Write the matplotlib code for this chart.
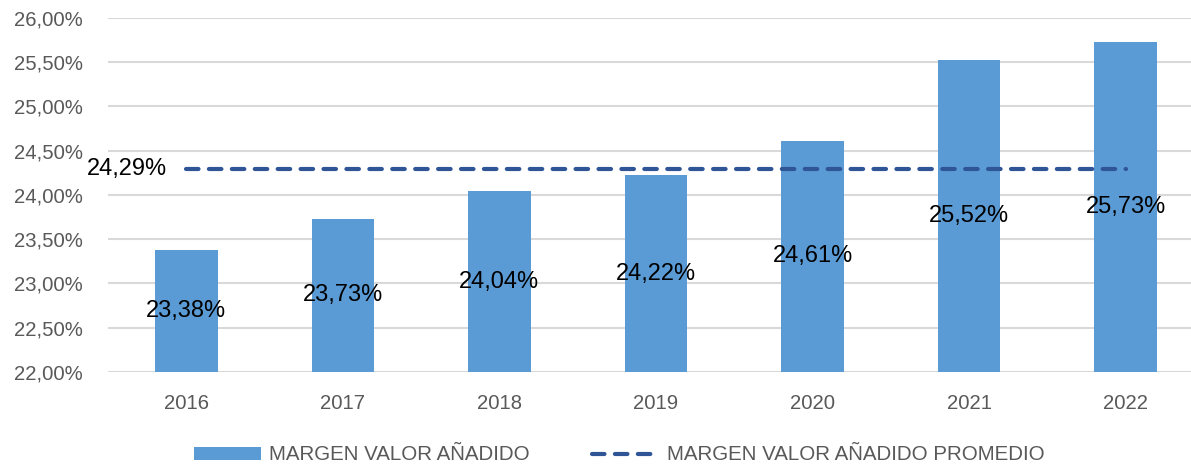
import matplotlib
matplotlib.use("Agg")
import matplotlib.pyplot as plt

# Data
years = ["2016", "2017", "2018", "2019", "2020", "2021", "2022"]
margen = [23.38, 23.73, 24.04, 24.22, 24.61, 25.52, 25.73]
promedio = [24.29] * len(years)
yticks = [22.0, 22.5, 23.0, 23.5, 24.0, 24.5, 25.0, 25.5, 26.0]

def pct(v):
    return "{:.2f}%".format(v).replace(".", ",")

plt.rcParams["font.family"] = ["Liberation Sans", "DejaVu Sans"]

W, H = 1191, 467
fig = plt.figure(figsize=(W / 100, H / 100), dpi=100)
ax = fig.add_axes([108 / W, 95 / H, (W - 108) / W, 354.3 / H])

x = list(range(len(years)))
bars = ax.bar(x, margen, width=0.4, bottom=0, color="#5B9BD5", zorder=2,
              label="MARGEN VALOR AÑADIDO")
line, = ax.plot(x, promedio, color="#2F5597", lw=3, dashes=(3, 2.5),
                dash_capstyle="round", zorder=3,
                label="MARGEN VALOR AÑADIDO PROMEDIO")

ax.set_ylim(22, 26)
ax.set_xlim(-0.5, 6.417)
ax.set_yticks(yticks)
ax.set_yticklabels([pct(v) for v in yticks])
ax.set_xticks(x)
ax.set_xticklabels(years)
ax.tick_params(axis="y", length=0, pad=18, labelsize=14.6, labelcolor="#595959")
ax.tick_params(axis="x", length=0, pad=16, labelsize=14.6, labelcolor="#595959")
ax.grid(axis="y", color="#D9D9D9", lw=1.5, zorder=0)
for s in ax.spines.values():
    s.set_visible(False)

# Labels in the middle of the visible bar part
for xi, v in zip(x, margen):
    ax.text(xi, (22 + v) / 2, pct(v), ha="center", va="center",
            fontsize=17, color="black", zorder=4)

ax.annotate(pct(promedio[0]), (0, promedio[0]), xytext=(-14, 0),
            textcoords="offset points", ha="right", va="center",
            fontsize=17, color="black")

leg = fig.legend(handles=[bars, line], loc="center", bbox_to_anchor=(0.52, 12 / H),
                 ncol=2, frameon=False, fontsize=14.8, handlelength=3.25,
                 handleheight=0.6, handletextpad=0.4, columnspacing=3.0)
for t in leg.get_texts():
    t.set_color("#595959")

fig.savefig("out.png", dpi=100)
